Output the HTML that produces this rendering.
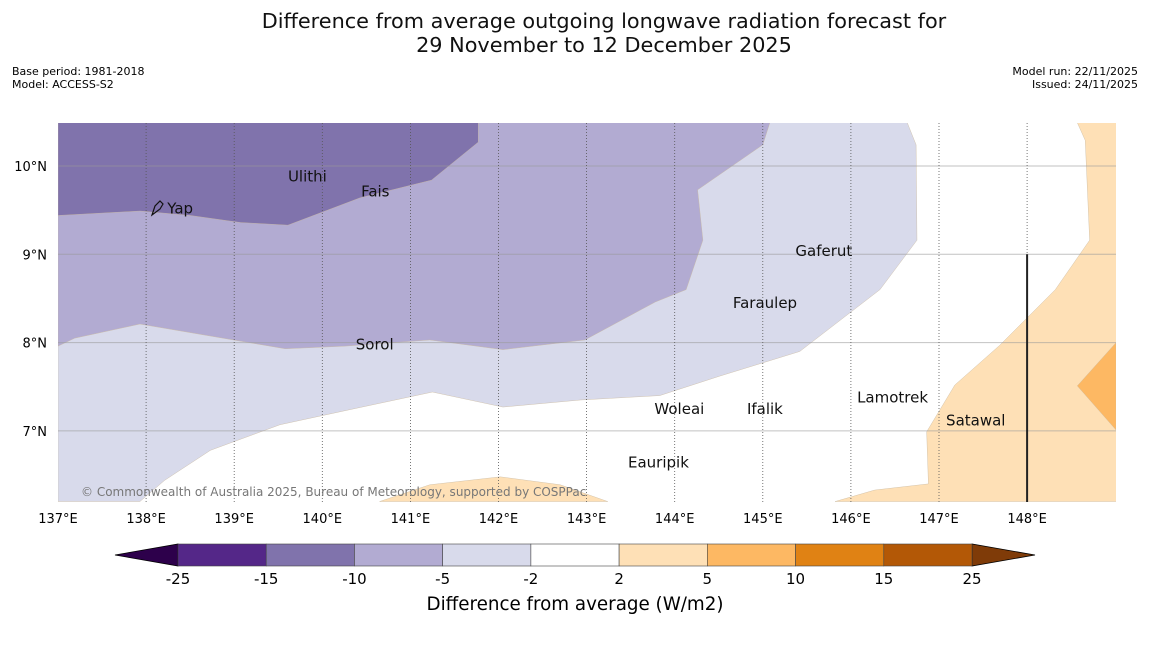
<!DOCTYPE html>
<html><head><meta charset="utf-8"><style>
body{margin:0;background:#fff;font-family:"Liberation Sans","DejaVu Sans",sans-serif}
svg text{font-family:"DejaVu Sans","Liberation Sans",sans-serif}
</style></head><body>
<svg id="c" width="1150" height="644" xmlns="http://www.w3.org/2000/svg">
<rect width="1150" height="644" fill="#fff"/>
<text x="604" y="28" text-anchor="middle" font-size="20.8" fill="#111">Difference from average outgoing longwave radiation forecast for</text>
<text x="604" y="52" text-anchor="middle" font-size="20.8" fill="#111">29 November to 12 December 2025</text>
<text x="12" y="75" font-size="11">Base period: 1981-2018</text>
<text x="12" y="88" font-size="11">Model: ACCESS-S2</text>
<text x="1138" y="75" font-size="11" text-anchor="end">Model run: 22/11/2025</text>
<text x="1138" y="88" font-size="11" text-anchor="end">Issued: 24/11/2025</text>
<defs><clipPath id="mc"><rect x="58" y="123" width="1058" height="379"/></clipPath></defs>
<g id="map" clip-path="url(#mc)"></g>
<g id="axes"></g>
<g id="cbar"></g>
<text x="575" y="610" text-anchor="middle" font-size="18.3">Difference from average (W/m2)</text>
</svg>
<script>
const lonTicks=[137,138,139,140,141,142,143,144,145,146,147,148];
const latTicks=[10,9,8,7];
const levels=[-25,-15,-10,-5,-2,2,5,10,15,25];
const levelColors=["#542788","#8073ac","#b2abd2","#d8daeb","#ffffff","#fee0b6","#fdb863","#e08214","#b35806"];
// contour polygons as [lon,lat] pairs
const polyLight=[[137,10.49],[146.64,10.49],[146.74,10.24],[146.75,9.16],[146.33,8.6],[145.42,7.9],[144.51,7.62],[143.83,7.4],[142.93,7.35],[142.05,7.27],[141.25,7.44],[140.31,7.24],[139.52,7.07],[138.73,6.78],[138.21,6.44],[137.93,6.2],[137,6.2]];
const polyMid=[[141.77,10.49],[145.08,10.49],[145.0,10.24],[144.26,9.73],[144.32,9.16],[144.13,8.6],[143.78,8.46],[142.98,8.03],[142.05,7.92],[141.22,8.03],[140.26,7.96],[139.58,7.93],[137.93,8.21],[137.19,8.05],[137,7.96],[137,10.49]];
const polyDark=[[137,10.49],[141.77,10.49],[141.77,10.27],[141.24,9.84],[140.43,9.64],[139.61,9.33],[139.07,9.36],[138.5,9.44],[137.93,9.49],[137,9.44]];
const polyOrange=[[148.57,10.49],[149.5,10.49],[149.5,6.2],[145.82,6.2],[146.27,6.33],[146.88,6.4],[146.86,6.99],[147.18,7.52],[147.69,7.97],[148.32,8.6],[148.71,9.16],[148.66,10.29]];
const polyOrange2=[[140.65,6.2],[141.22,6.39],[142.02,6.48],[142.7,6.39],[143.24,6.2]];
const polyOrangeMid=[[149.01,8.0],[148.57,7.51],[149.01,7.01]];
const places=["Yap","Ulithi","Fais","Gaferut","Faraulep","Sorol","Lamotrek","Woleai","Ifalik","Satawal","Eauripik"];
const placeLon=[138.24,139.61,140.44,145.37,144.66,140.38,146.07,143.77,144.82,147.08,143.47];
const placeLat=[9.52,9.88,9.71,9.04,8.45,7.98,7.38,7.25,7.25,7.12,6.64];
const X=lon=>58+(lon-137)*88.1, Y=lat=>166+(10-lat)*88.3;
const NS="http://www.w3.org/2000/svg";
function mk(t,a,p){const e=document.createElementNS(NS,t);for(const k in a)e.setAttribute(k,a[k]);p.appendChild(e);return e;}
const map=document.getElementById('map'),axes=document.getElementById('axes'),cb=document.getElementById('cbar');
function poly(pts,fill,name){const e=mk('polygon',{points:pts.map(p=>X(p[0])+','+Y(p[1])).join(' '),fill:fill,stroke:'#c9b9a0','stroke-width':0.4},map);

}
poly(polyLight,levelColors[3],'contour-minus5-minus2');
poly(polyMid,levelColors[2],'contour-minus10-minus5');
poly(polyDark,levelColors[1],'contour-minus15-minus10');
poly(polyOrange,levelColors[5],'contour-2-5-east');
poly(polyOrange2,levelColors[5],'contour-2-5-south');
poly(polyOrangeMid,levelColors[6],'contour-5-10');
latTicks.forEach(l=>{const e=mk('line',{x1:58,x2:1116,y1:Y(l),y2:Y(l),stroke:'#999','stroke-opacity':0.6,'stroke-width':1},map);


const t=mk('text',{x:47,y:Y(l)+5,'text-anchor':'end','font-size':13},axes);t.textContent=l+'°N';

});
lonTicks.forEach(l=>{if(l>137){const e=mk('line',{x1:X(l),x2:X(l),y1:123,y2:502,stroke:'#555','stroke-width':0.8,'stroke-dasharray':'1,2'},map);

}
const t=mk('text',{x:X(l),y:523,'text-anchor':'middle','font-size':13},axes);t.textContent=l+'°E';

});
const vl=mk('line',{x1:X(148),x2:X(148),y1:Y(9),y2:502,stroke:'#222','stroke-width':2},map);


places.forEach((p,i)=>{const t=mk('text',{x:X(placeLon[i]),y:Y(placeLat[i])+5,'font-size':15,fill:'#111'},map);t.textContent=p;

});
const yi=mk('path',{d:'M152,215 L155,206 L160,201 L163,204 L160,209 Z',fill:'none',stroke:'#111','stroke-width':1.2},map);


const cp=mk('text',{x:81,y:496,'font-size':12,fill:'#777'},map);cp.textContent='© Commonwealth of Australia 2025, Bureau of Meteorology, supported by COSPPac';


// colorbar
const cx0=178,cw=(972-178)/levelColors.length,cy=544,ch=22;
const lt=mk('polygon',{points:`115,${cy+ch/2} ${cx0},${cy} ${cx0},${cy+ch}`,fill:'#2d004b',stroke:'#000','stroke-width':0.8},cb);


const rt=mk('polygon',{points:`1035,${cy+ch/2} 972,${cy} 972,${cy+ch}`,fill:'#7f3b08',stroke:'#000','stroke-width':0.8},cb);


levelColors.forEach((c,i)=>{const r=mk('rect',{x:cx0+i*cw,y:cy,width:cw,height:ch,fill:c,stroke:'#444','stroke-width':0.6},cb);

});
levels.forEach((v,i)=>{const t=mk('text',{x:cx0+i*cw,y:584,'text-anchor':'middle','font-size':15},cb);t.textContent=v;

});
</script>
</body></html>
